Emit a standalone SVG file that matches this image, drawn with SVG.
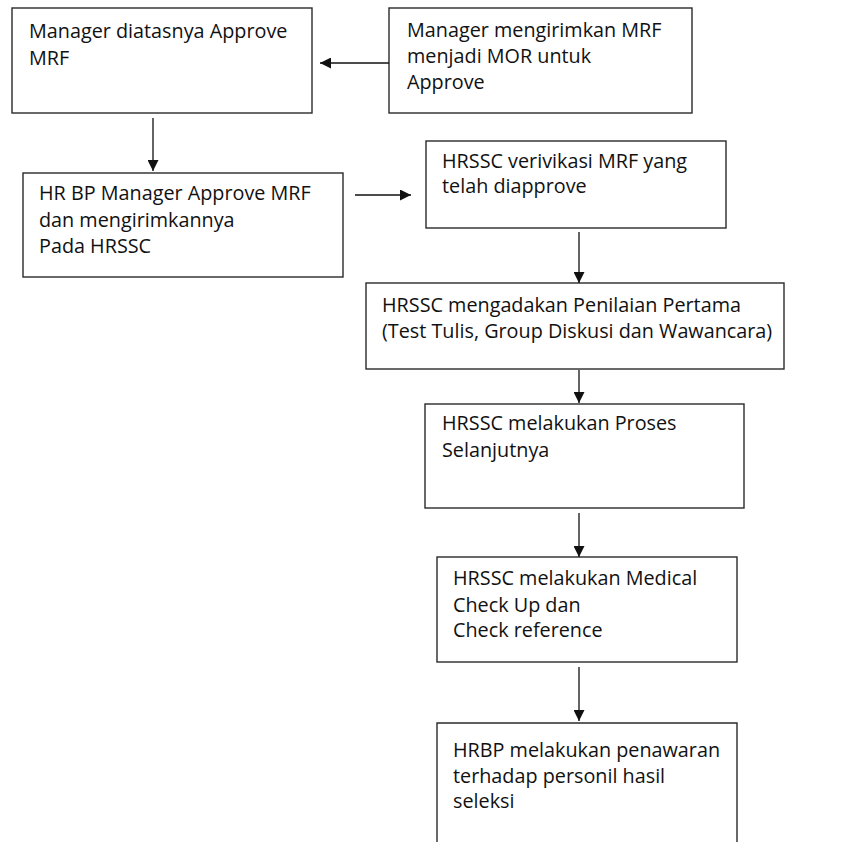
<svg xmlns="http://www.w3.org/2000/svg" width="841" height="842" viewBox="0 0 841 842">
<style>
.box{fill:#fff;stroke:#2a2a2a;stroke-width:1.4}
.t{font-family:"Open Sans","Noto Sans",sans-serif;font-size:19.8px;fill:#111}
.c{stroke:#111;stroke-width:1.3;fill:none;marker-end:url(#ah)}
</style>
<defs>
<marker id="ah" markerWidth="11" markerHeight="11" refX="11" refY="5.5" orient="auto" markerUnits="userSpaceOnUse">
<path d="M0,0 L11,5.5 L0,11 Z" fill="#111"/>
</marker>
</defs>
<rect width="841" height="842" fill="#fff"/>
<g id="n1"><rect class="box" x="12" y="8" width="300" height="105"/>
<text class="t" x="29" y="38">Manager diatasnya Approve</text>
<text class="t" x="29" y="65">MRF</text></g>
<g id="n2"><rect class="box" x="389" y="8" width="303" height="105"/>
<text class="t" x="407" y="37">Manager mengirimkan MRF</text>
<text class="t" x="407" y="63">menjadi MOR untuk</text>
<text class="t" x="407" y="89">Approve</text></g>
<g id="n3"><rect class="box" x="23" y="173" width="320" height="104"/>
<text class="t" x="39" y="200">HR BP Manager Approve MRF</text>
<text class="t" x="39" y="227">dan mengirimkannya</text>
<text class="t" x="39" y="253">Pada HRSSC</text></g>
<g id="n4"><rect class="box" x="426" y="141" width="300" height="87"/>
<text class="t" x="442" y="168">HRSSC verivikasi MRF yang</text>
<text class="t" x="442" y="193">telah diapprove</text></g>
<g id="n5"><rect class="box" x="366" y="283" width="418" height="86"/>
<text class="t" x="382" y="312">HRSSC mengadakan Penilaian Pertama</text>
<text class="t" x="382" y="338">(Test Tulis, Group Diskusi dan Wawancara)</text></g>
<g id="n6"><rect class="box" x="425" y="404" width="319" height="104"/>
<text class="t" x="442" y="430">HRSSC melakukan Proses</text>
<text class="t" x="442" y="457">Selanjutnya</text></g>
<g id="n7"><rect class="box" x="437" y="557" width="300" height="105"/>
<text class="t" x="453" y="585">HRSSC melakukan Medical</text>
<text class="t" x="453" y="612">Check Up dan</text>
<text class="t" x="453" y="637">Check reference</text></g>
<g id="n8"><path class="box" d="M437,845 V723 H737 V845"/>
<text class="t" x="453" y="757">HRBP melakukan penawaran</text>
<text class="t" x="453" y="783">terhadap personil hasil</text>
<text class="t" x="453" y="808">seleksi</text></g>
<g id="connectors">
<line class="c" x1="389" y1="63" x2="320" y2="63"/>
<line class="c" x1="153" y1="118" x2="153" y2="171"/>
<line class="c" x1="355" y1="195" x2="411" y2="195"/>
<line class="c" x1="579" y1="232" x2="579" y2="283"/>
<line class="c" x1="579" y1="370" x2="579" y2="403"/>
<line class="c" x1="579" y1="513" x2="579" y2="557"/>
<line class="c" x1="579" y1="667" x2="579" y2="721"/>
</g>
</svg>
